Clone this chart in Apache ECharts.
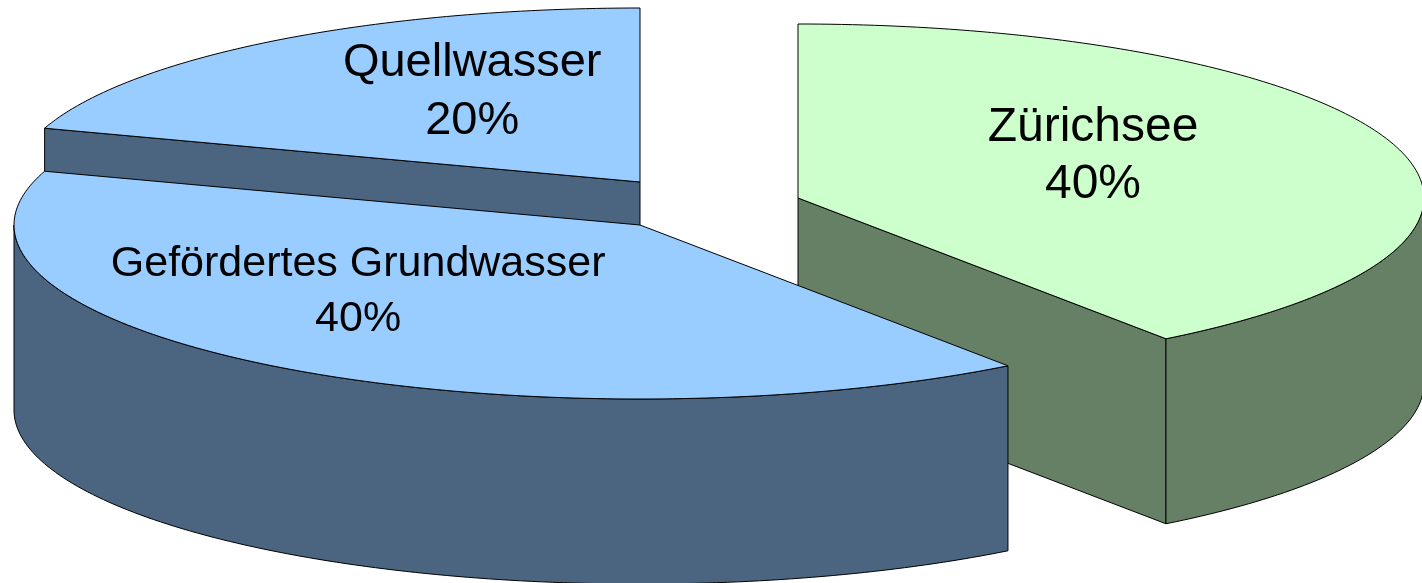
<!DOCTYPE html>
<html>
<head>
<meta charset="utf-8">
<script src="https://cdn.jsdelivr.net/npm/echarts@6/dist/echarts.min.js"></script>
<style>
  html, body { margin: 0; padding: 0; background: #ffffff; }
  #chart { width: 1422px; height: 583px; }
</style>
</head>
<body>
<div id="chart"></div>
<script>
// ---- data ----
const categories = ['Zürichsee', 'Gefördertes Grundwasser', 'Quellwasser'];
const values = [40, 40, 20];

// ---- styles / layout ----
const topColors = ['#CCFFCC', '#99CCFF', '#99CCFF'];
const sideColors = ['#668066', '#4B6580', '#4B6580'];
const labelFontSizes = [48, 43, 47];
const labelLineHeights = [57, 55, 58];
const layout = {
  cx: 640, cy: 225, rx: 626, ry: 174, depth: 185, startAngle: -90,
  explode: [[158, -27], [0, 0], [0, -43]],
  labelFactor: [[0.4955, 0.77], [0.766, 0.476], [0.456, 0.64]]
};

const total = values.reduce((a, b) => a + b, 0);
const rad = d => d * Math.PI / 180;

function sliceAngles(i) {
  let before = 0;
  for (let k = 0; k < i; k++) before += values[k];
  const a0 = layout.startAngle + 360 * before / total;
  const a1 = a0 + 360 * values[i] / total;
  return [a0, a1];
}

// depth ranking (back to front) by mid angle
const ranks = (function () {
  const mids = values.map((v, i) => { const [a0, a1] = sliceAngles(i); return Math.sin(rad((a0 + a1) / 2)); });
  const order = mids.map((m, i) => i).sort((a, b) => mids[a] - mids[b]);
  const r = [];
  order.forEach((idx, k) => { r[idx] = k; });
  return r;
})();

function renderItem(params, api) {
  const i = params.dataIndex;
  const v = api.value(0);
  const [a0, a1] = sliceAngles(i);
  const cx = layout.cx + layout.explode[i][0];
  const cy = layout.cy + layout.explode[i][1];
  const rx = layout.rx, ry = layout.ry, h = layout.depth;
  const P = t => [cx + rx * Math.cos(rad(t)), cy + ry * Math.sin(rad(t))];
  const D = p => [p[0], p[1] + h];
  const arc = (s, e) => {
    const n = Math.max(2, Math.ceil(Math.abs(e - s) / 1));
    const pts = [];
    for (let k = 0; k <= n; k++) pts.push(P(s + (e - s) * k / n));
    return pts;
  };
  const base = ranks[i] * 10;
  const stroke = { stroke: '#000', lineWidth: 1, lineJoin: 'round' };
  const children = [];
  const C = [cx, cy];

  // radial faces
  if (Math.cos(rad(a0)) < -1e-6) {
    const p = P(a0);
    children.push({ type: 'polygon', z2: base + 1, shape: { points: [C, p, D(p), D(C)] },
      style: Object.assign({ fill: sideColors[i] }, stroke) });
  }
  if (Math.cos(rad(a1)) > 1e-6) {
    const p = P(a1);
    children.push({ type: 'polygon', z2: base + 1, shape: { points: [C, p, D(p), D(C)] },
      style: Object.assign({ fill: sideColors[i] }, stroke) });
  }
  // outer curved side (front half only)
  [[0, 180], [360, 540], [-360, -180]].forEach(([f0, f1]) => {
    const s = Math.max(a0, f0), e = Math.min(a1, f1);
    if (e - s > 0.01) {
      const topPts = arc(s, e);
      const botPts = topPts.map(D).reverse();
      children.push({ type: 'polygon', z2: base + 2, shape: { points: topPts.concat(botPts) },
        style: Object.assign({ fill: sideColors[i] }, stroke) });
    }
  });
  // top face
  children.push({ type: 'polygon', z2: base + 3, shape: { points: [C].concat(arc(a0, a1)) },
    style: Object.assign({ fill: topColors[i] }, stroke) });

  // label
  const mid = (a0 + a1) / 2;
  const lf = layout.labelFactor[i];
  children.push({
    type: 'text', z2: 100,
    style: {
      text: categories[i] + '\n' + Math.round(v / total * 100) + '%',
      x: cx + rx * Math.cos(rad(mid)) * lf[0],
      y: cy + ry * Math.sin(rad(mid)) * lf[1],
      align: 'center', verticalAlign: 'middle',
      fontSize: labelFontSizes[i], fontFamily: '"Liberation Sans", Arial, sans-serif',
      lineHeight: labelLineHeights[i], fill: '#000'
    }
  });
  return { type: 'group', children: children };
}

const chart = echarts.init(document.getElementById('chart'), null, { renderer: 'canvas' });
chart.setOption({
  animation: false,
  backgroundColor: '#ffffff',
  series: [{
    type: 'custom',
    coordinateSystem: 'none',
    renderItem: renderItem,
    data: values.map((v, i) => ({ name: categories[i], value: [v] }))
  }]
});
</script>
</body>
</html>
